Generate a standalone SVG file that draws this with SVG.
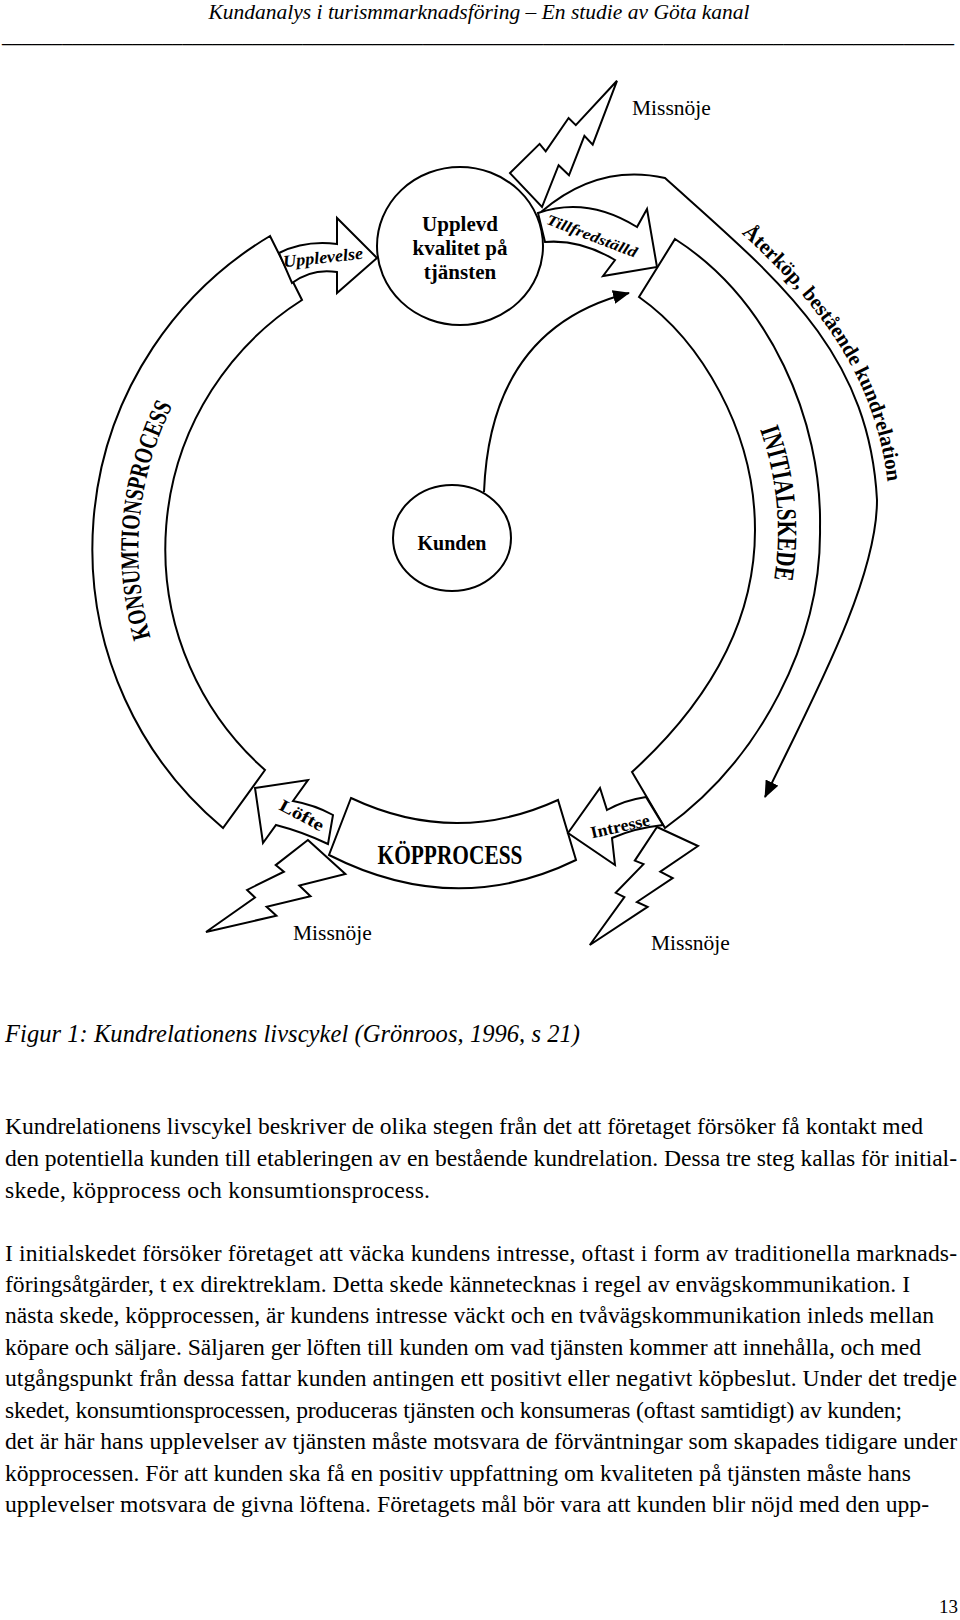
<svg xmlns="http://www.w3.org/2000/svg" width="960" height="1620" viewBox="0 0 960 1620">
<style>
  .ln{fill:none;stroke:#000;stroke-width:2}
  .sh{fill:#fff;stroke:#000;stroke-width:2;stroke-linejoin:miter}
  .t{font-family:"Liberation Serif","Times New Roman",serif;fill:#000}
  .b{font-weight:bold}
  .wa{font-family:"Liberation Serif","Times New Roman",serif;font-weight:bold;fill:#000}
  .body{font-family:"Liberation Serif","Times New Roman",serif;font-size:23.6px;fill:#000}
  .mis{font-family:"Liberation Serif","Times New Roman",serif;font-size:21.5px;fill:#000}
</style>
<defs>
  <marker id="ah" markerUnits="userSpaceOnUse" markerWidth="18" markerHeight="14" refX="16" refY="7" orient="auto">
    <path d="M0,0 L17,7 L0,14 Z" fill="#000"/>
  </marker>
  <path id="pKons" d="M158,660 A320,320 0 0 1 184,385"/>
  <path id="pInit" d="M752,410 A300,300 0 0 1 770,600"/>
  <path id="pAter" d="M671,171 C785,270 882,350 890,510"/>
</defs>

<g id="header">
  <text class="t" x="479" y="19" text-anchor="middle" font-size="21.5" font-style="italic">Kundanalys i turismmarknadsföring – En studie av Göta kanal</text>
  <text class="t" x="2" y="42" font-size="20" textLength="952" lengthAdjust="spacingAndGlyphs">_______________________________________________________________________________________________</text>
</g>

<g id="connectors">
  <path class="ln" d="M541,212 Q598,163 665,178 C776,278 869,350 877,500 C877,580 813,698 765,797" marker-end="url(#ah)"/>
  <path class="ln" d="M484,492 C488,390 530,318 629,293" marker-end="url(#ah)"/>
</g>

<g id="band-konsumtion">
  <path class="sh" d="M270,236 A364,364 0 0 0 223,828 L265,770 A295,295 0 0 1 302,300 Z"/>
  <text class="wa" font-size="26"><textPath href="#pKons" startOffset="50%" text-anchor="middle" textLength="238" lengthAdjust="spacingAndGlyphs">KONSUMTIONSPROCESS</textPath></text>
</g>

<g id="band-initial">
  <path class="sh" d="M675,239 C770,300 822,420 820,527 C822,640 760,760 665,828 L632,772 C700,710 755,630 755,530 C755,430 700,340 639,297 Z"/>
  <text class="wa" font-size="28"><textPath href="#pInit" startOffset="50%" text-anchor="middle" textLength="152" lengthAdjust="spacingAndGlyphs">INITIALSKEDE</textPath></text>
</g>

<g id="label-aterkop">
  <text class="wa" font-size="21"><textPath href="#pAter" startOffset="94">Återköp, bestående</textPath></text>
  <text class="wa" font-size="21"><textPath href="#pAter" startOffset="273">kundrelation</textPath></text>
</g>

<g id="arrow-upplevelse">
  <path class="sh" d="M279,253 Q305,240 337,244 L337,218 L377,258 L337,293 L337,272 Q312,268 292,283 Z"/>
  <text class="wa" font-style="italic" font-size="17" x="323" y="263" text-anchor="middle" textLength="80" lengthAdjust="spacingAndGlyphs" transform="rotate(-6 323 257)">Upplevelse</text>
</g>

<g id="arrow-tillfredstalld">
  <path class="sh" d="M538,213 Q587,196 637,227 L647,209 L657,267 L603,276 L615,260 Q580,239 545,242 Z"/>
  <text class="wa" font-style="italic" font-size="15" x="592" y="241" text-anchor="middle" textLength="96" lengthAdjust="spacingAndGlyphs" transform="rotate(21 592 236)">Tillfredställd</text>
</g>

<g id="box-kopprocess">
  <path class="sh" d="M351,798 Q455,847 558,800 L576,860 Q455,919 329,855 Z"/>
  <text class="wa" font-size="28" x="450" y="864" text-anchor="middle" textLength="145" lengthAdjust="spacingAndGlyphs">KÖPPROCESS</text>
</g>

<g id="arrow-lofte">
  <path class="sh" d="M255,788 L308,780 L293,801 Q315,805 333,815 L328,844 Q303,832 276,825 L263,843 Z"/>
  <text class="wa" font-size="17" x="302" y="821" text-anchor="middle" textLength="48" lengthAdjust="spacingAndGlyphs" transform="rotate(28 302 815)">Löfte</text>
</g>

<g id="arrow-intresse">
  <path class="sh" d="M568,833 L600,788 L607,810 Q625,800 646,797 L663,825 Q635,828 612,838 L615,865 Z"/>
  <text class="wa" font-size="17" x="620" y="832" text-anchor="middle" textLength="60" lengthAdjust="spacingAndGlyphs" transform="rotate(-13 620 826)">Intresse</text>
</g>

<g id="bolt-top">
  <polygon class="sh" points="510.0,173.1 542.0,207.0 558.6,165.2 569.0,175.3 584.4,135.8 592.7,144.6 617.0,80.8 575.8,125.1 568.6,118.0 545.7,151.3 539.6,143.9"/>
</g>
<g id="bolt-left">
  <polygon class="sh" points="307.9,840 345.4,874 299.3,885.5 310.5,896.3 266.6,906.8 276.4,915.7 206,932 255,897.5 247.1,889.9 283.9,871.7 275.7,865.1"/>
</g>
<g id="bolt-right">
  <polygon class="sh" points="657.0,827.0 698.0,846.0 660.3,871.6 672.7,878 636.9,902 647.6,906.9 589.8,945.0 624.4,897.2 615.7,892.8 643.5,864.1 634.8,860.6"/>
</g>

<g id="node-upplevd">
  <ellipse class="sh" cx="460" cy="246" rx="83" ry="79"/>
  <text class="t b" font-size="21" text-anchor="middle"><tspan x="460" y="231">Upplevd</tspan><tspan x="460" y="255">kvalitet på</tspan><tspan x="460" y="279">tjänsten</tspan></text>
</g>

<g id="node-kunden">
  <ellipse class="sh" cx="452" cy="538" rx="59" ry="53"/>
  <text class="t b" font-size="20" x="452" y="550" text-anchor="middle">Kunden</text>
</g>

<g id="missnoje-labels">
  <text class="mis" x="632" y="115">Missnöje</text>
  <text class="mis" x="293" y="940">Missnöje</text>
  <text class="mis" x="651" y="950">Missnöje</text>
</g>

<g id="caption">
  <text class="t" font-size="24.5" font-style="italic" x="5" y="1042" textLength="575">Figur 1: Kundrelationens livscykel (Grönroos, 1996, s 21)</text>
</g>

<g id="body">
  <text class="body" x="5" y="1134" textLength="918">Kundrelationens livscykel beskriver de olika stegen från det att företaget försöker få kontakt med</text>
  <text class="body" x="5" y="1166" textLength="952">den potentiella kunden till etableringen av en bestående kundrelation. Dessa tre steg kallas för initial-</text>
  <text class="body" x="5" y="1198" textLength="425">skede, köpprocess och konsumtionsprocess.</text>
  <text class="body" x="5" y="1261" textLength="952">I initialskedet försöker företaget att väcka kundens intresse, oftast i form av traditionella marknads-</text>
  <text class="body" x="5" y="1292" textLength="905">föringsåtgärder, t ex direktreklam. Detta skede kännetecknas i regel av envägskommunikation. I</text>
  <text class="body" x="5" y="1323" textLength="929">nästa skede, köpprocessen, är kundens intresse väckt och en tvåvägskommunikation inleds mellan</text>
  <text class="body" x="5" y="1355" textLength="916">köpare och säljare. Säljaren ger löften till kunden om vad tjänsten kommer att innehålla, och med</text>
  <text class="body" x="5" y="1386" textLength="952">utgångspunkt från dessa fattar kunden antingen ett positivt eller negativt köpbeslut. Under det tredje</text>
  <text class="body" x="5" y="1418" textLength="897">skedet, konsumtionsprocessen, produceras tjänsten och konsumeras (oftast samtidigt) av kunden;</text>
  <text class="body" x="5" y="1449" textLength="952">det är här hans upplevelser av tjänsten måste motsvara de förväntningar som skapades tidigare under</text>
  <text class="body" x="5" y="1481" textLength="906">köpprocessen. För att kunden ska få en positiv uppfattning om kvaliteten på tjänsten måste hans</text>
  <text class="body" x="5" y="1512" textLength="924">upplevelser motsvara de givna löftena. Företagets mål bör vara att kunden blir nöjd med den upp-</text>
</g>

<g id="page-number">
  <text class="t" font-size="19" x="958" y="1613" text-anchor="end">13</text>
</g>
</svg>
